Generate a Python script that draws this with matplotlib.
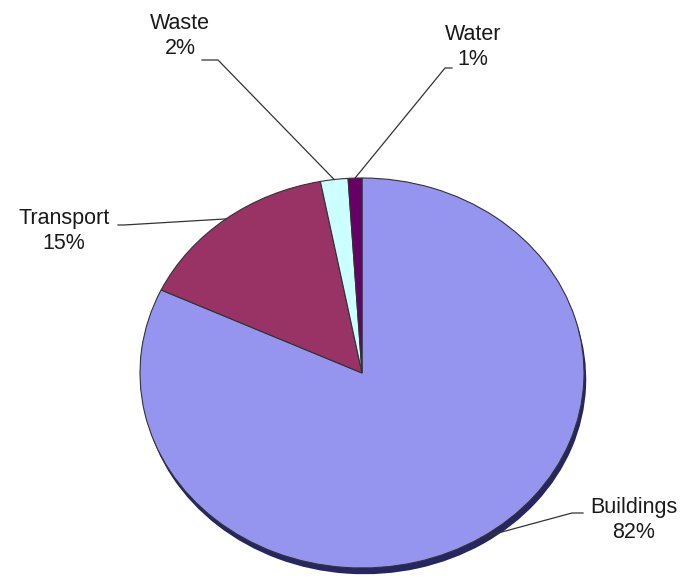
import numpy as np
import matplotlib
matplotlib.use('Agg')
import matplotlib.pyplot as plt

# データ
labels = ['Buildings', 'Transport', 'Waste', 'Water']
values = [82, 15, 2, 1]
colors = ['#9595f0', '#993366', '#ccffff', '#660066']

# ラベル位置 (ピクセル) と引き出し線の折れ点
W, H = 685, 582
CX, CY, RX, RY = 362, 373, 222, 195
label_pos = {
    'Buildings': (634, 520),
    'Transport': (64, 231),
    'Waste': (180, 36),
    'Water': (473, 47),
}
leader_pts = {
    'Buildings': [(583, 513), (572, 513)],
    'Transport': [(118, 225), (124, 225)],
    'Waste': [(202, 60), (218, 60)],
    'Water': [(452, 68), (445, 68)],
}


def px2data(x, y):
    return (x - CX) / RX, (CY - y) / RY


fig = plt.figure(figsize=(W / 100, H / 100), dpi=100)
ax = fig.add_axes([(CX - RX) / W, (H - CY - RY) / H, 2 * RX / W, 2 * RY / H])

# 影
ax.pie(values, startangle=90, counterclock=False, center=(0.01, -0.032),
       colors=['#262660'] * len(values), wedgeprops=dict(linewidth=0))
wedges, _ = ax.pie(values, startangle=90, counterclock=False, colors=colors,
                   wedgeprops=dict(edgecolor='#333333', linewidth=0.8))
ax.set_aspect('auto')
ax.set_xlim(-1, 1)
ax.set_ylim(-1, 1)

total = sum(values)
cum = np.cumsum([0] + values)
for i, name in enumerate(labels):
    mid = (cum[i] + values[i] / 2) / total * 2 * np.pi
    ax_x, ax_y = np.sin(mid), np.cos(mid)
    pts = [px2data(*p) for p in leader_pts[name]] + [(ax_x, ax_y)]
    xs, ys = zip(*pts)
    ax.plot(xs, ys, color='#333333', lw=0.9, clip_on=False)
    tx, ty = px2data(*label_pos[name])
    ax.text(tx, ty, f'{name}\n{values[i]}%', ha='center', va='center',
            fontsize=15.5, family='Liberation Sans', color='#1a1a1a',
            linespacing=1.3, clip_on=False)

fig.savefig('out.png', dpi=100)
